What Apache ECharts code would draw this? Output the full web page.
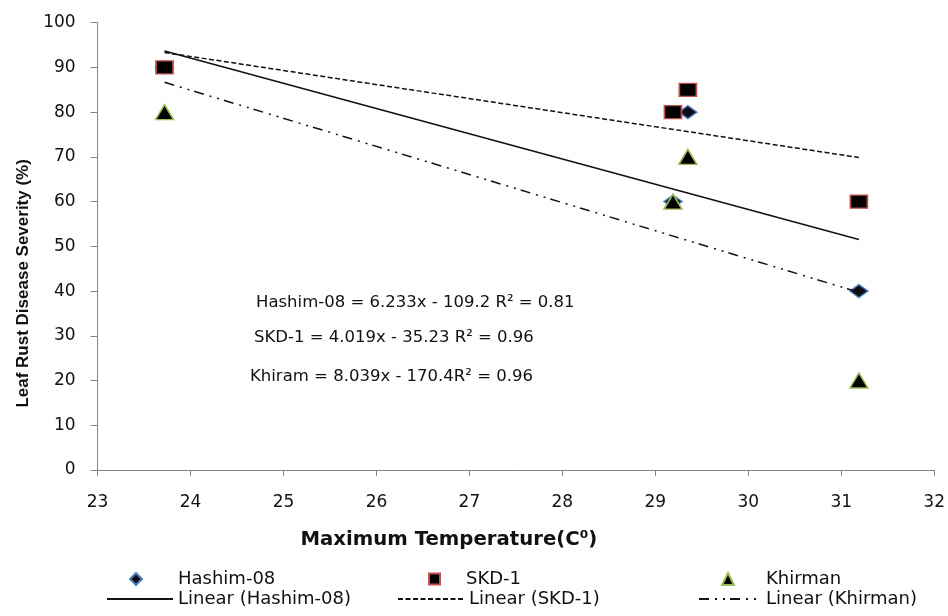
<!DOCTYPE html>
<html>
<head>
<meta charset="utf-8">
<script src="https://cdn.jsdelivr.net/npm/echarts@6/dist/echarts.min.js"></script>
<style>
html,body{margin:0;padding:0;background:#fff;}
#chart{width:948px;height:616px;}
</style>
</head>
<body>
<div id="chart"></div>
<script>
// ---- data ----
const temperature = [23.72, 29.19, 29.35, 31.19];   // Maximum temperature (C)
const hashim08 = [90, 60, 80, 40];                   // Leaf rust severity (%)
const skd1 = [90, 80, 85, 60];
const khirman = [80, 60, 70, 20];
const seriesNames = ['Hashim-08', 'SKD-1', 'Khirman'];
const trendNames = ['Linear (Hashim-08)', 'Linear (SKD-1)', 'Linear (Khirman)'];
const equations = [
  'Hashim-08 = 6.233x - 109.2 R\u00b2 = 0.81',
  'SKD-1 = 4.019x - 35.23 R\u00b2 = 0.96',
  'Khiram = 8.039x - 170.4R\u00b2 = 0.96'
];
const xTicks = { min: 23, max: 32, step: 1 };
const yTicks = { min: 0, max: 100, step: 10 };
const xTitle = 'Maximum Temperature(C\u2070)';
const yTitle = 'Leaf Rust Disease Severity (%)';

// least-squares trendline over the data range (as the spreadsheet trendline does)
function trend(xs, ys) {
  const n = xs.length;
  const mx = xs.reduce((a, b) => a + b, 0) / n;
  const my = ys.reduce((a, b) => a + b, 0) / n;
  let sxy = 0, sxx = 0;
  for (let i = 0; i < n; i++) { sxy += (xs[i] - mx) * (ys[i] - my); sxx += (xs[i] - mx) * (xs[i] - mx); }
  const b = sxy / sxx, a = my - b * mx;
  const x0 = Math.min(...xs), x1 = Math.max(...xs);
  return [[x0, a + b * x0], [x1, a + b * x1]];
}
const pairs = ys => temperature.map((t, i) => [t, ys[i]]);

const chart = echarts.init(document.getElementById('chart'), null, { renderer: 'canvas' });
const FONT = 'DejaVu Sans';
const axisGrey = '#868686';
function legendText(padLeft) {
  return { fontFamily: FONT, fontSize: 18, color: '#111', padding: [0, 0, 0, padLeft] };
}
const legendCommon = { orient: 'horizontal', padding: 0, itemGap: 0, selectedMode: false, symbolKeepAspect: true };
const hiddenDot = { color: 'rgba(0,0,0,0)', borderColor: 'rgba(0,0,0,0)', borderWidth: 0 };

const option = {
  animation: false,
  backgroundColor: '#fff',
  grid: { left: 97.6, right: 13, top: 22.7, bottom: 146, containLabel: false },
  xAxis: {
    type: 'value', min: xTicks.min, max: xTicks.max, interval: xTicks.step,
    name: xTitle, nameLocation: 'middle', nameGap: 60,
    nameTextStyle: { fontFamily: FONT, fontWeight: 'bold', fontSize: 19.7, color: '#111', padding: [0, 134, 0, 0] },
    axisLine: { show: true, onZero: false, lineStyle: { color: axisGrey, width: 1 } },
    axisTick: { show: true, inside: false, length: 6, lineStyle: { color: axisGrey } },
    axisLabel: { fontFamily: FONT, fontSize: 17, color: '#111', margin: 24 },
    splitLine: { show: false }
  },
  yAxis: {
    type: 'value', min: yTicks.min, max: yTicks.max, interval: yTicks.step,
    name: yTitle, nameLocation: 'middle', nameGap: 65,
    nameTextStyle: { fontFamily: 'Liberation Sans', fontWeight: 'bold', fontSize: 17, color: '#111', padding: [0, 74, 0, 0] },
    axisLine: { show: true, lineStyle: { color: axisGrey, width: 1 } },
    axisTick: { show: true, inside: false, length: 7, lineStyle: { color: axisGrey } },
    axisLabel: { fontFamily: FONT, fontSize: 17, color: '#111', margin: 22 },
    splitLine: { show: false }
  },
  legend: [
    Object.assign({ data: [{ name: seriesNames[0], icon: 'diamond' }], left: 129, top: 570, itemWidth: 12, itemHeight: 12, textStyle: legendText(31) }, legendCommon),
    Object.assign({ data: [{ name: seriesNames[1], icon: 'rect' }], left: 428, top: 570, itemWidth: 11, itemHeight: 11, textStyle: legendText(21) }, legendCommon),
    Object.assign({ data: [{ name: seriesNames[2], icon: 'triangle' }], left: 721, top: 570, itemWidth: 12, itemHeight: 12, textStyle: legendText(27) }, legendCommon),
    Object.assign({ data: [trendNames[0]], left: 106, top: 590, itemWidth: 66, itemHeight: 10, textStyle: legendText(0), itemStyle: hiddenDot }, legendCommon),
    Object.assign({ data: [trendNames[1]], left: 397, top: 590, itemWidth: 66, itemHeight: 10, textStyle: legendText(0), itemStyle: hiddenDot }, legendCommon),
    Object.assign({ data: [trendNames[2]], left: 698, top: 590, itemWidth: 62, itemHeight: 10, textStyle: legendText(0), itemStyle: hiddenDot }, legendCommon)
  ],
  graphic: [
    { type: 'text', x: 256, y: 303, style: { text: equations[0], font: '16.5px "DejaVu Sans"', fill: '#111', verticalAlign: 'middle' } },
    { type: 'text', x: 254, y: 338, style: { text: equations[1], font: '16.5px "DejaVu Sans"', fill: '#111', verticalAlign: 'middle' } },
    { type: 'text', x: 250, y: 377, style: { text: equations[2], font: '16.5px "DejaVu Sans"', fill: '#111', verticalAlign: 'middle' } }
  ],
  series: [
    {
      name: seriesNames[0], type: 'scatter', data: pairs(hashim08),
      symbol: 'diamond', symbolSize: [18, 13],
      itemStyle: { color: '#0d0d1a', borderColor: '#4F81BD', borderWidth: 1.5, opacity: 1 }
    },
    {
      name: seriesNames[1], type: 'scatter', data: pairs(skd1),
      symbol: 'rect', symbolSize: [17, 13],
      itemStyle: { color: '#000', borderColor: '#C0504D', borderWidth: 1.5, opacity: 1 }
    },
    {
      name: seriesNames[2], type: 'scatter', data: pairs(khirman),
      symbol: 'triangle', symbolSize: [18, 15],
      itemStyle: { color: '#000', borderColor: '#9BBB59', borderWidth: 1.5, opacity: 1 }
    },
    {
      name: trendNames[0], type: 'line', data: trend(temperature, hashim08), symbol: 'none',
      lineStyle: { color: '#111', width: 1.5, type: 'solid' }, itemStyle: { color: '#111' }
    },
    {
      name: trendNames[1], type: 'line', data: trend(temperature, skd1), symbol: 'none',
      lineStyle: { color: '#111', width: 1.5, type: [5, 2.5] }, itemStyle: { color: '#111' }
    },
    {
      name: trendNames[2], type: 'line', data: trend(temperature, khirman), symbol: 'none',
      lineStyle: { color: '#111', width: 1.5, type: [10, 6, 2, 6, 2, 5] }, itemStyle: { color: '#111' }
    }
  ]
};
chart.setOption(option);
</script>
</body>
</html>
